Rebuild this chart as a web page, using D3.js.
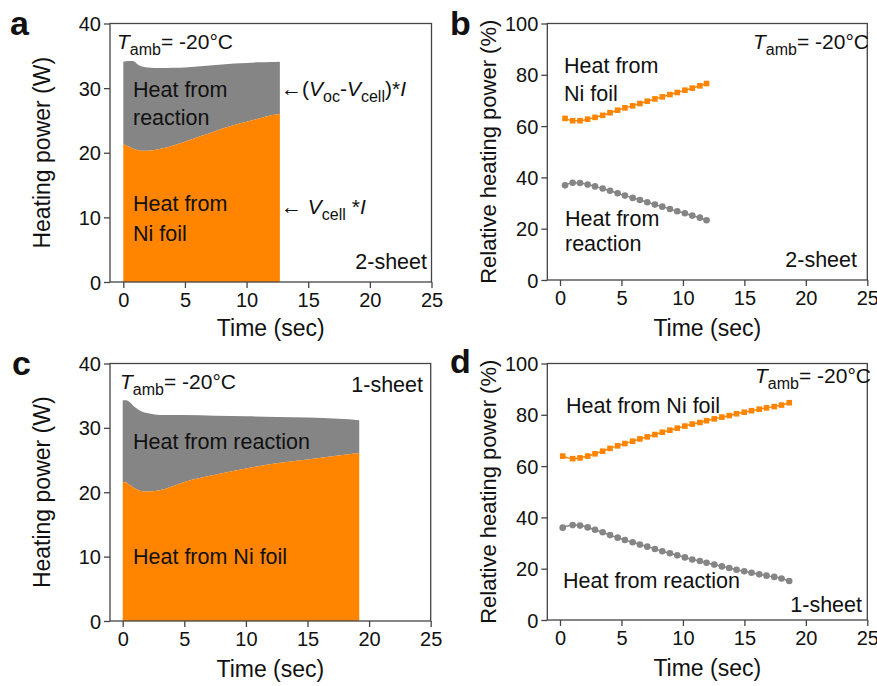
<!DOCTYPE html>
<html><head><meta charset="utf-8">
<script src="https://cdn.jsdelivr.net/npm/d3@7"></script>
<style>body{margin:0;background:#fff} text{font-family:"Liberation Sans",Arial,Helvetica,sans-serif;fill:#111}</style>
</head><body>
<svg id="chart" width="877" height="686"></svg>
<script>
// ---------- data ----------
const timeTicks = [0, 5, 10, 15, 20, 25];
const powerTicks = [0, 10, 20, 30, 40];
const relTicks = [0, 20, 40, 60, 80, 100];

// panel a (2-sheet) stacked heating power (W)
const timeA   = [0, 0.4, 0.8, 1.2, 1.6, 2, 3, 4, 5, 6, 7, 8, 9, 10, 11, 12, 12.7];
const niFoilA = [21.3, 21.0, 20.6, 20.4, 20.3, 20.3, 20.6, 21.1, 21.7, 22.4, 23.0, 23.7, 24.3, 24.8, 25.3, 25.8, 26.0];
const totalA  = [34.1, 34.2, 34.2, 33.6, 33.3, 33.2, 33.1, 33.15, 33.2, 33.35, 33.5, 33.65, 33.8, 33.9, 34.0, 34.05, 34.1];

// panel c (1-sheet) stacked heating power (W)
const timeC   = [0, 0.3, 0.5, 1, 1.5, 2, 3, 4, 5, 7.5, 10, 12.5, 15, 17.5, 19.2];
const niFoilC = [21.6, 21.5, 21.2, 20.6, 20.2, 20.1, 20.3, 20.9, 21.6, 22.7, 23.7, 24.5, 25.1, 25.7, 26.1];
const totalC  = [34.3, 34.3, 34.1, 33.2, 32.6, 32.3, 32.0, 32.0, 32.0, 31.9, 31.8, 31.7, 31.6, 31.4, 31.2];

// panel b (2-sheet) relative heating power (%)
const timeB = [0.41, 1.03, 1.63, 2.25, 2.85, 3.47, 4.07, 4.69, 5.28, 5.91, 6.50, 7.10, 7.72, 8.32, 8.94, 9.54, 10.16, 10.76, 11.38, 11.92];
const relNiB = [63.0, 62.1, 62.1, 62.7, 63.4, 64.2, 65.2, 66.2, 67.1, 67.9, 68.8, 69.7, 70.6, 71.4, 72.3, 73.1, 74.0, 74.8, 75.7, 76.6];
const relRxB = [36.9, 37.9, 37.8, 37.2, 36.5, 35.7, 34.8, 33.8, 32.9, 32.0, 31.2, 30.3, 29.4, 28.6, 27.7, 26.8, 26.0, 25.1, 24.3, 23.3];

// panel d (1-sheet) relative heating power (%)
const timeD = [0.22, 1.03, 1.63, 2.25, 2.85, 3.47, 4.07, 4.69, 5.28, 5.91, 6.50, 7.10, 7.72, 8.32, 8.94, 9.54, 10.16, 10.76, 11.38, 11.92, 12.55, 13.17, 13.77, 14.36, 14.99, 15.58, 16.21, 16.80, 17.43, 18.02, 18.65];
const relNiD = [63.9, 62.9, 63.2, 63.9, 64.8, 65.8, 66.9, 67.9, 68.8, 69.7, 70.6, 71.4, 72.3, 73.2, 74.0, 74.8, 75.6, 76.4, 77.0, 77.7, 78.4, 79.1, 79.7, 80.4, 81.0, 81.6, 82.2, 82.7, 83.2, 83.8, 84.7];
const relRxD = [36.0, 37.0, 36.8, 36.1, 35.2, 34.2, 33.1, 32.1, 31.2, 30.3, 29.4, 28.6, 27.7, 26.8, 26.0, 25.2, 24.4, 23.6, 23.0, 22.3, 21.6, 20.9, 20.3, 19.6, 19.0, 18.4, 17.8, 17.3, 16.8, 16.2, 15.2];

// ---------- drawing ----------
const ORANGE = "#FF8400", GRAY = "#858585", AXIS = "#444";
const svg = d3.select("#chart");

function frame(p) {
  const g = svg.append("g");
  const x = d3.scaleLinear().domain([0, 25]).range([p.x0, p.right]);
  const y = d3.scaleLinear().domain([0, p.yMax]).range([p.bottom, p.top]);
  const ax = g.append("g").attr("transform", `translate(0,${p.bottom})`)
    .call(d3.axisBottom(x).tickValues(timeTicks).tickSize(6).tickPadding(5));
  ax.select(".domain").remove();
  const ay = g.append("g").attr("transform", `translate(${p.left},0)`)
    .call(d3.axisLeft(y).tickValues(p.yTicks).tickSize(6).tickPadding(3));
  ay.select(".domain").remove();
  [ax, ay].forEach(a => {
    a.selectAll("line").attr("stroke", AXIS).attr("stroke-width", 1.3);
    a.selectAll("text").attr("font-size", 20).attr("fill", "#111")
      .style("font-family", '"Liberation Sans",Arial,sans-serif');
  });
  ay.selectAll("text").attr("dy", "0.35em");
  return {g, x, y};
}

function border(p) {
  svg.append("rect").attr("x", p.left).attr("y", p.top)
    .attr("width", p.right - p.left).attr("height", p.bottom - p.top)
    .attr("fill", "none").attr("stroke", AXIS).attr("stroke-width", 1.3);
}

function titles(p, ytitle, yx) {
  svg.append("text").attr("x", (p.left + p.right) / 2).attr("y", p.xTitleY)
    .attr("text-anchor", "middle").attr("font-size", 23).text("Time (sec)");
  svg.append("text").attr("transform", `translate(${yx},${(p.top + p.bottom) / 2}) rotate(-90)`)
    .attr("text-anchor", "middle").attr("font-size", p.yTitleSize).text(ytitle);
  svg.append("text").attr("x", p.letterX).attr("y", p.letterY)
    .attr("font-size", 34).attr("font-weight", "bold").text(p.letter);
}

function tamb(x, y) {
  const t = svg.append("text").attr("x", x).attr("y", y).attr("font-size", 21);
  t.append("tspan").attr("font-style", "italic").text("T");
  t.append("tspan").attr("font-size", 16).attr("dy", 6).text("amb");
  t.append("tspan").attr("dy", -6).text("= -20°C");
}

function label(lines, x, y, lh, anchor) {
  lines.forEach((s, i) => svg.append("text").attr("x", x).attr("y", y + i * lh)
    .attr("font-size", 21.5).attr("text-anchor", anchor || "start").text(s));
}

function stacked(p, time, ni, total) {
  const {x, y} = frame(p);
  const rows = time.map((t, i) => ({t, ni: ni[i], total: total[i]}));
  const areaNi = d3.area().x(d => x(d.t)).y0(y(0)).y1(d => y(d.ni)).curve(d3.curveMonotoneX);
  const areaRx = d3.area().x(d => x(d.t)).y0(d => y(d.ni)).y1(d => y(d.total)).curve(d3.curveMonotoneX);
  svg.append("path").datum(rows).attr("d", areaRx).attr("fill", GRAY);
  svg.append("path").datum(rows).attr("d", areaNi).attr("fill", ORANGE);
  border(p);
  return {x, y};
}

function scatter(p, time, ni, rx) {
  const {x, y} = frame(p);
  const line = d3.line().x(d => x(d[0])).y(d => y(d[1])).curve(d3.curveMonotoneX);
  const niPts = time.map((t, i) => [t, ni[i]]);
  const rxPts = time.map((t, i) => [t, rx[i]]);
  svg.append("path").datum(niPts).attr("d", line).attr("fill", "none").attr("stroke", ORANGE).attr("stroke-width", 1.5);
  svg.append("path").datum(rxPts).attr("d", line).attr("fill", "none").attr("stroke", GRAY).attr("stroke-width", 1.5);
  const s = 5.6;
  svg.append("g").selectAll("rect").data(niPts).join("rect")
    .attr("x", d => x(d[0]) - s / 2).attr("y", d => y(d[1]) - s / 2)
    .attr("width", s).attr("height", s).attr("fill", ORANGE);
  svg.append("g").selectAll("circle").data(rxPts).join("circle")
    .attr("cx", d => x(d[0])).attr("cy", d => y(d[1])).attr("r", 3.3).attr("fill", GRAY);
  border(p);
}

// panel a
const pA = {left: 110, top: 23.5, right: 431.5, bottom: 282, x0: 123.3, yMax: 40, yTicks: powerTicks,
  xTitleY: 336, yTitleSize: 23, letter: "a", letterX: 10, letterY: 35};
stacked(pA, timeA, niFoilA, totalA);
titles(pA, "Heating power (W)", 50);
tamb(117, 49);
label(["Heat from", "reaction"], 133, 97, 28);
label(["Heat from", "Ni foil"], 133, 211, 30);
label(["2-sheet"], 427, 269, 0, "end");
{
  const t = svg.append("text").attr("x", 281).attr("y", 96).attr("font-size", 21);
  t.append("tspan").text("←");
  t.append("tspan").text("(");
  t.append("tspan").attr("font-style", "italic").text("V");
  t.append("tspan").attr("font-size", 16).attr("dy", 6).text("oc");
  t.append("tspan").attr("dy", -6).text("-");
  t.append("tspan").attr("font-style", "italic").text("V");
  t.append("tspan").attr("font-size", 16).attr("dy", 6).text("cell");
  t.append("tspan").attr("dy", -6).text(")*");
  t.append("tspan").attr("font-style", "italic").text("I");
  const u = svg.append("text").attr("x", 281).attr("y", 214).attr("font-size", 21);
  u.append("tspan").text("← ");
  u.append("tspan").attr("font-style", "italic").text("V");
  u.append("tspan").attr("font-size", 16).attr("dy", 6).text("cell");
  u.append("tspan").attr("dy", -6).text(" *");
  u.append("tspan").attr("font-style", "italic").text("I");
}

// panel b
const pB = {left: 547.3, top: 23.5, right: 867.3, bottom: 280, x0: 560, yMax: 100, yTicks: relTicks,
  xTitleY: 336, yTitleSize: 22, letter: "b", letterX: 450, letterY: 35};
scatter(pB, timeB, relNiB, relRxB);
titles(pB, "Relative heating power (%)", 496);
tamb(753, 49);
label(["Heat from", "Ni foil"], 564, 73, 28);
label(["Heat from", "reaction"], 565, 226, 25);
label(["2-sheet"], 857, 267, 0, "end");

// panel c
const pC = {left: 110, top: 363.5, right: 430.7, bottom: 621, x0: 122.7, yMax: 40, yTicks: powerTicks,
  xTitleY: 677, yTitleSize: 23, letter: "c", letterX: 12, letterY: 375};
stacked(pC, timeC, niFoilC, totalC);
titles(pC, "Heating power (W)", 50);
tamb(120, 389);
label(["1-sheet"], 423, 392, 0, "end");
label(["Heat from reaction"], 133, 449, 0);
label(["Heat from Ni foil"], 133, 564, 0);

// panel d
const pD = {left: 547.3, top: 363.5, right: 867.3, bottom: 620, x0: 560, yMax: 100, yTicks: relTicks,
  xTitleY: 676, yTitleSize: 22, letter: "d", letterX: 450, letterY: 373};
scatter(pD, timeD, relNiD, relRxD);
titles(pD, "Relative heating power (%)", 496);
tamb(755, 383);
label(["Heat from Ni foil"], 566, 413, 0);
label(["Heat from reaction"], 563, 588, 0);
label(["1-sheet"], 862, 612, 0, "end");
</script>
</body></html>
